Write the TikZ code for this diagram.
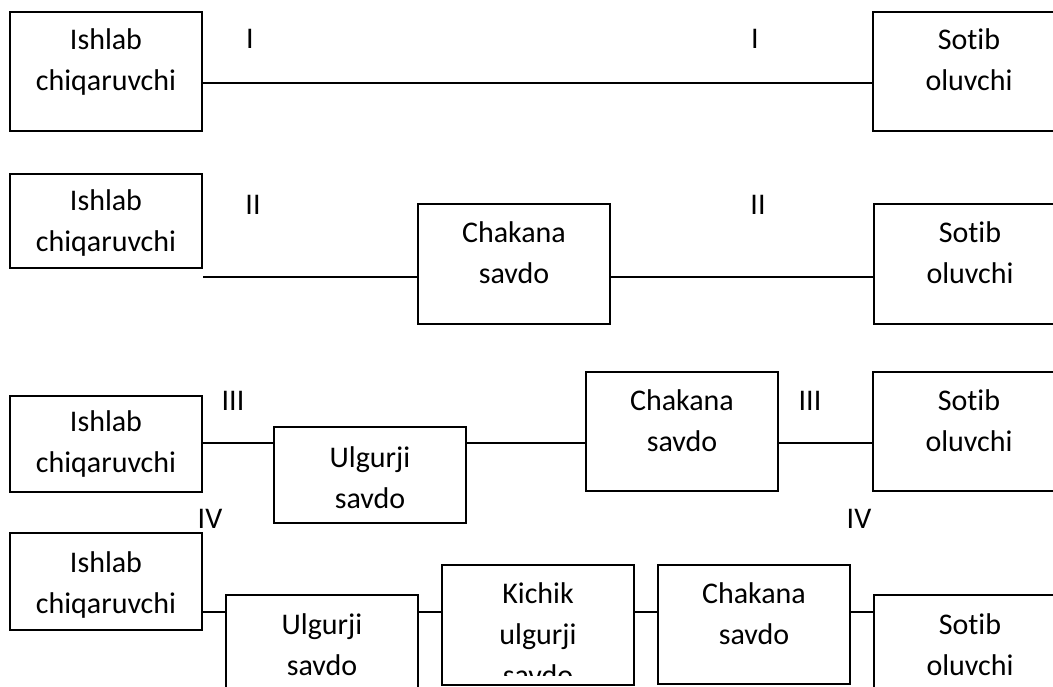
\documentclass[tikz,border=0pt]{standalone}
\usepackage{fontspec}
\setmainfont{Carlito}[Ligatures={NoCommon}]
\newcommand\mlines[1]{\begin{tabular}[t]{@{}c@{}}#1\end{tabular}}
\begin{document}
\begin{tikzpicture}[x=1pt,y=-1pt,
  box/.style={draw, line width=2pt, rectangle, inner sep=0pt, minimum width=192pt},
  txt/.style={inner sep=0pt, anchor=base, font=\fontsize{30}{41}\selectfont},
  conn/.style={line width=2pt}]
\clip (0,0) rectangle (1053,686);
\fill[white] (0,0) rectangle (1053,686);
% Row 1
\node[box, minimum height=119pt] (a1) at (106,71.5) {};
\node[box, minimum height=119pt] (s1) at (969,71.5) {};
\node[txt] (a1t) at (106,49) {\mlines{Ishlab\\chiqaruvchi}};
\node[txt] (s1t) at (969,49) {\mlines{Sotib\\oluvchi}};
\coordinate (r1) at (0,83);
\draw[conn] (a1.east |- r1) -- (s1.west |- r1);
\node[txt] (l1a) at (250,48) {I};
\node[txt] (l1b) at (755,48) {I};
% Row 2
\node[box, minimum height=94pt] (a2) at (106,221) {};
\node[box, minimum height=120pt] (c2) at (514,264) {};
\node[box, minimum height=120pt] (s2) at (970,264) {};
\node[txt] (a2t) at (106,210) {\mlines{Ishlab\\chiqaruvchi}};
\node[txt] (c2t) at (514,242) {\mlines{Chakana\\savdo}};
\node[txt] (s2t) at (970,242) {\mlines{Sotib\\oluvchi}};
\coordinate (r2) at (0,277);
\draw[conn] (a2.east |- r2) -- (c2.west |- r2);
\draw[conn] (c2.east |- r2) -- (s2.west |- r2);
\node[txt] (l2a) at (253,214) {II};
\node[txt] (l2b) at (758,214) {II};
% Row 3
\node[box, minimum height=96pt] (a3) at (106,444) {};
\node[box, minimum height=96pt] (u3) at (370,475) {};
\node[box, minimum height=119pt] (c3) at (682,431.5) {};
\node[box, minimum height=119pt] (s3) at (969,431.5) {};
\node[txt] (a3t) at (106,431) {\mlines{Ishlab\\chiqaruvchi}};
\node[txt] (u3t) at (370,467) {\mlines{Ulgurji\\savdo}};
\node[txt] (c3t) at (682,410) {\mlines{Chakana\\savdo}};
\node[txt] (s3t) at (969,410) {\mlines{Sotib\\oluvchi}};
\coordinate (r3) at (0,443);
\draw[conn] (a3.east |- r3) -- (u3.west |- r3);
\draw[conn] (u3.east |- r3) -- (c3.west |- r3);
\draw[conn] (c3.east |- r3) -- (s3.west |- r3);
\node[txt] (l3a) at (233,410) {III};
\node[txt] (l3b) at (810,410) {III};
\node[txt] (l4a) at (210,528) {IV};
\node[txt] (l4b) at (859,528) {IV};
% Row 4
\node[box, minimum height=97pt] (a4) at (106,581.5) {};
\node[box, minimum height=120pt] (u4) at (322,655) {};
\node[box, minimum height=120pt] (k4) at (538,625) {};
\node[box, minimum height=119pt] (c4) at (754,624.5) {};
\node[box, minimum height=120pt] (s4) at (970,655) {};
\node[txt] (a4t) at (106,572) {\mlines{Ishlab\\chiqaruvchi}};
\node[txt] (u4t) at (322,634) {\mlines{Ulgurji\\savdo}};
\begin{scope}
\clip (444,567) rectangle (632,675);
\node[txt] (k4t) at (538,603) {\mlines{Kichik\\ulgurji\\savdo}};
\end{scope}
\node[txt] (c4t) at (754,603) {\mlines{Chakana\\savdo}};
\node[txt] (s4t) at (970,634) {\mlines{Sotib\\oluvchi}};
\coordinate (r4) at (0,612);
\draw[conn] (a4.east |- r4) -- (u4.west |- r4);
\draw[conn] (u4.east |- r4) -- (k4.west |- r4);
\draw[conn] (k4.east |- r4) -- (c4.west |- r4);
\draw[conn] (c4.east |- r4) -- (s4.west |- r4);
\end{tikzpicture}
\end{document}
